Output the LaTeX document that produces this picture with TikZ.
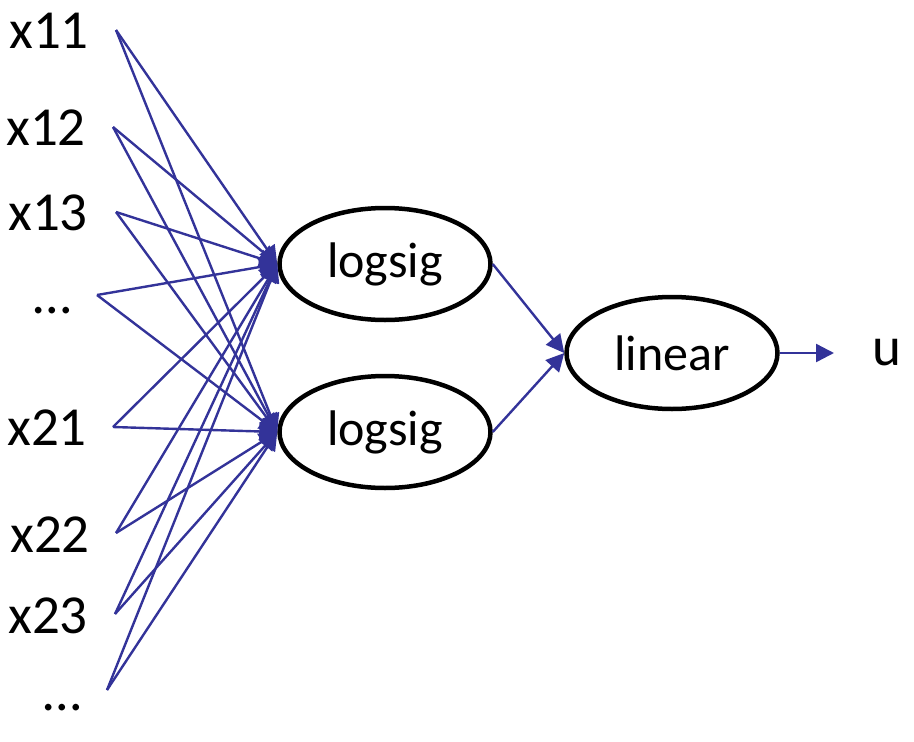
\documentclass[tikz,border=0pt]{standalone}
\usepackage{fontspec}
\setmainfont{Carlito}
\usetikzlibrary{arrows.meta,shapes.geometric}
\definecolor{conn}{RGB}{51,51,153}
\begin{document}
\begin{tikzpicture}[x=1pt,y=-1pt,
  inlabel/.style={anchor=base west,inner sep=0pt,font=\fontsize{55}{60}\selectfont},
  neuron/.style={ellipse,draw=black,line width=4.5pt,minimum width=211pt,minimum height=112pt,inner sep=0pt,font=\fontsize{50}{56}\selectfont},
  link/.style={draw=conn,line width=2.4pt,-{Triangle[length=18pt,width=18pt]}}]
\useasboundingbox (0,0) rectangle (914,742);
% input labels
\node[inlabel] (t11) at (9,48) {x11};
\node[inlabel] (t12) at (6,145) {x12};
\node[inlabel] (t13) at (8,230) {x13};
\node[inlabel] (td1) at (33,313) {…};
\node[inlabel] (t21) at (7,445) {x21};
\node[inlabel] (t22) at (10,552) {x22};
\node[inlabel] (t23) at (8,633) {x23};
\node[inlabel] (td2) at (43,710) {…};
% line start points
\coordinate (s11) at (116,30);
\coordinate (s12) at (113,127);
\coordinate (s13) at (116,212);
\coordinate (sd1) at (97,295);
\coordinate (s21) at (113,427);
\coordinate (s22) at (116,533);
\coordinate (s23) at (115,614);
\coordinate (sd2) at (107,690);
% neurons
\node[neuron] (h1) at (385,264) {logsig};
\node[neuron] (h2) at (385,432) {logsig};
\node[neuron] (o) at (672,353) {linear};
\node[anchor=base,inner sep=0pt,font=\fontsize{55}{60}\selectfont] (u) at (887,365) {u};
\coordinate (uend) at (834,353);
% connectors
\foreach \s in {s11,s12,s13,sd1,s21,s22,s23,sd2}{
  \draw[link] (\s) -- (h1.west);
  \draw[link] (\s) -- (h2.west);
}
\draw[link] (h1.east) -- (o.west);
\draw[link] (h2.east) -- (o.west);
\draw[link] (o.east) -- (uend);
\end{tikzpicture}
\end{document}
